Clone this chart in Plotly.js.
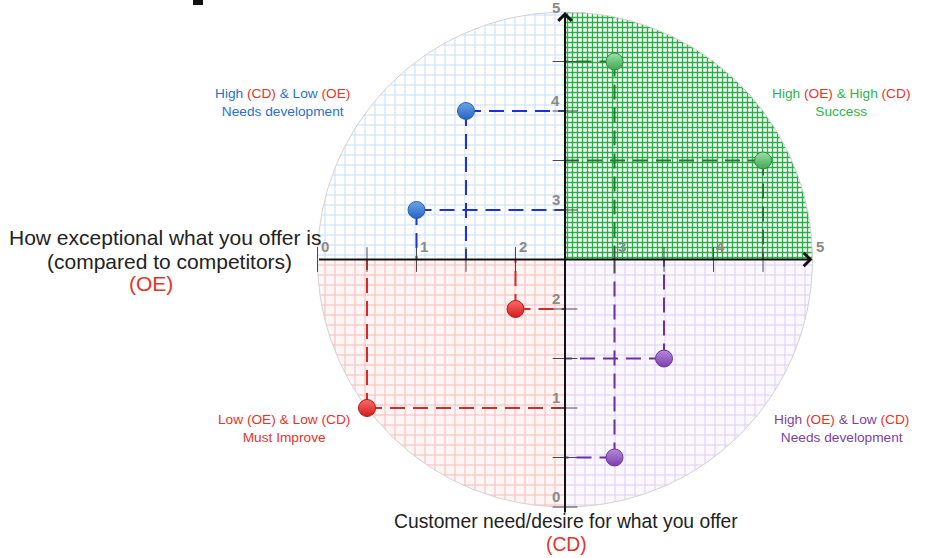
<!DOCTYPE html>
<html><head><meta charset="utf-8">
<script src="https://cdn.plot.ly/plotly-3.0.1.min.js"></script>
<style>html,body{margin:0;padding:0;background:#fff}#chart{width:932px;height:558px}</style>
</head><body><div id="chart"></div>
<script>
// ---- data ----
const successX = [3, 4.5];
const successY = [4.5, 3.5];
const devCdX = [1.5, 1];
const devCdY = [4, 3];
const improveX = [2, 0.5];
const improveY = [2, 1];
const devOeX = [3.5, 3];
const devOeY = [1.5, 0.5];
const tickLabelValues = [0, 1, 2, 3, 4, 5];
const tickLabels = ['0', '1', '2', '3', '4', '5'];
const minorTickValues = [0, 0.5, 1, 1.5, 2, 3, 3.5, 4, 4.5];
const axisMid = 2.5;
const circleR = 2.5;

const FONT = '"Liberation Sans", Arial, sans-serif';
const RED = '#e5332a';

function sector(a0, a1) {
  const xs = [axisMid], ys = [axisMid];
  for (let a = a0; a <= a1; a += 1) {
    const t = a * Math.PI / 180;
    xs.push(axisMid + circleR * Math.cos(t));
    ys.push(axisMid + circleR * Math.sin(t));
  }
  xs.push(axisMid); ys.push(axisMid);
  return {xs, ys};
}
function sectorTrace(a0, a1, fg, bg, size, solidity) {
  const s = sector(a0, a1);
  return {x: s.xs, y: s.ys, type: 'scatter', mode: 'lines', fill: 'toself',
    line: {width: 0, color: 'rgba(0,0,0,0)'}, fillcolor: bg,
    fillpattern: {shape: '+', size: size, solidity: solidity, fgcolor: fg, bgcolor: bg, fgopacity: 1},
    hoverinfo: 'skip', showlegend: false};
}
function guides(xs, ys, color) {
  const gx = [], gy = [];
  xs.forEach((x, i) => {
    gx.push(x, x, null, x, axisMid, null);
    gy.push(ys[i], axisMid, null, ys[i], ys[i], null);
  });
  return {x: gx, y: gy, type: 'scatter', mode: 'lines',
    line: {color: color, width: 2, dash: '15px,8px'}, hoverinfo: 'skip', showlegend: false};
}
function markers(xs, ys, top, bottom, edge) {
  return {x: xs, y: ys, type: 'scatter', mode: 'markers',
    marker: {size: 17, color: top, gradient: {type: 'vertical', color: bottom}, line: {color: edge, width: 1}},
    hoverinfo: 'skip', showlegend: false};
}

const circ = sector(0, 360);
const traces = [
  sectorTrace(0, 90, '#2aae48', '#ffffff', 5, 0.48),
  sectorTrace(90, 180, '#c6def6', '#ffffff', 10, 0.19),
  sectorTrace(180, 270, '#f8bcbc', '#fff5f5', 10, 0.19),
  sectorTrace(270, 360, '#dccff1', '#faf7ff', 10, 0.19),
  {x: circ.xs.slice(1, -1), y: circ.ys.slice(1, -1), type: 'scatter', mode: 'lines',
   line: {color: '#d2d2d2', width: 1}, hoverinfo: 'skip', showlegend: false},
  guides(successX, successY, '#1e7d2e'),
  guides(devCdX, devCdY, '#1f2fe0'),
  guides(improveX, improveY, '#d42a2a'),
  guides(devOeX, devOeY, '#6b2fa3'),
  markers(successX, successY, '#9be0a6', '#3fa853', '#2f8a40'),
  markers(devCdX, devCdY, '#6aa5ec', '#2862c4', '#2a5fb0'),
  markers(improveX, improveY, '#ff6a6a', '#d01c1c', '#b81818'),
  markers(devOeX, devOeY, '#b888dc', '#7a3fb0', '#6a3598')
];

const shapes = [];
minorTickValues.forEach(v => {
  shapes.push({type: 'line', xref: 'x', yref: 'y', x0: v, x1: v, y0: axisMid - 0.125, y1: axisMid + 0.125,
    line: {color: '#4a4a4a', width: 1}});
  shapes.push({type: 'line', xref: 'x', yref: 'y', y0: v, y1: v, x0: axisMid - 0.125, x1: axisMid + 0.125,
    line: {color: '#4a4a4a', width: 1}});
});
shapes.push({type: 'rect', xref: 'paper', yref: 'paper', x0: 193/932, x1: 203/932, y0: 1 - 5/558, y1: 1,
  fillcolor: '#111', line: {width: 0}});

const annotations = [];
// axes with arrows
annotations.push({x: 5, y: axisMid, ax: 0, ay: axisMid, xref: 'x', yref: 'y', axref: 'x', ayref: 'y',
  text: '', showarrow: true, arrowhead: 4, arrowsize: 1.3, arrowwidth: 2, arrowcolor: '#111'});
annotations.push({x: axisMid, y: 5, ax: axisMid, ay: -0.07, xref: 'x', yref: 'y', axref: 'x', ayref: 'y',
  text: '', showarrow: true, arrowhead: 4, arrowsize: 1.3, arrowwidth: 2, arrowcolor: '#111'});
// tick labels
tickLabelValues.forEach((v, i) => {
  annotations.push({x: v, y: axisMid, xref: 'x', yref: 'y', text: tickLabels[i], showarrow: false,
    xanchor: 'center', yanchor: 'middle', xshift: 7, yshift: 13,
    font: {family: FONT, size: 15, color: '#8a8a8a', weight: 'bold'}});
  annotations.push({x: axisMid, y: v, xref: 'x', yref: 'y', text: tickLabels[i], showarrow: false,
    xanchor: 'right', yanchor: 'middle', xshift: -3, yshift: v === 5 ? 5 : 11,
    font: {family: FONT, size: 15, color: '#8a8a8a', weight: 'bold'}});
});
function red(t) { return '<span style="color:' + RED + '">' + t + '</span>'; }
function paperAnn(px, py, text, color, size) {
  return {xref: 'paper', yref: 'paper', x: px / 932, y: 1 - py / 558, text: text, showarrow: false,
    xanchor: 'center', yanchor: 'middle', align: 'center', font: {family: FONT, size: size, color: color}};
}
// quadrant labels
annotations.push(paperAnn(282, 102, 'High ' + red('(CD)') + ' &amp; Low ' + red('(OE)') + '<br>Needs development', '#2a6fd0', 13.7));
annotations.push(paperAnn(841, 102, 'High ' + red('(OE)') + ' &amp; High ' + red('(CD)') + '<br>Success', '#2eb34a', 13.7));
annotations.push(paperAnn(284, 428, 'Low (OE) &amp; Low (CD)<br>Must Improve', RED, 13.7));
annotations.push(paperAnn(841, 428, 'High ' + red('(OE)') + ' &amp; Low ' + red('(CD)') + '<br>Needs development', '#7b3fa6', 13.7));
// axis titles
annotations.push(paperAnn(165, 237, 'How exceptional what you offer is', '#222', 21));
annotations.push(paperAnn(169, 261, '(compared to competitors)', '#222', 21));
annotations.push(paperAnn(151, 283, '(OE)', RED, 21));
annotations.push(paperAnn(566, 521, 'Customer need/desire for what you offer', '#222', 19.3));
annotations.push(paperAnn(566, 544, '(CD)', RED, 19.3));

const W = 932, H = 558, U = 99;
const xa = -317.5 / U;
const yt = 5 + 12 / U;
const layout = {
  width: W, height: H, margin: {l: 0, r: 0, t: 0, b: 0, pad: 0},
  paper_bgcolor: '#ffffff', plot_bgcolor: '#ffffff', showlegend: false,
  xaxis: {range: [xa, xa + W / U], visible: false, fixedrange: true},
  yaxis: {range: [yt - H / U, yt], visible: false, fixedrange: true},
  shapes: shapes, annotations: annotations
};
Plotly.newPlot('chart', traces, layout, {displayModeBar: false, staticPlot: true});
</script></body></html>
